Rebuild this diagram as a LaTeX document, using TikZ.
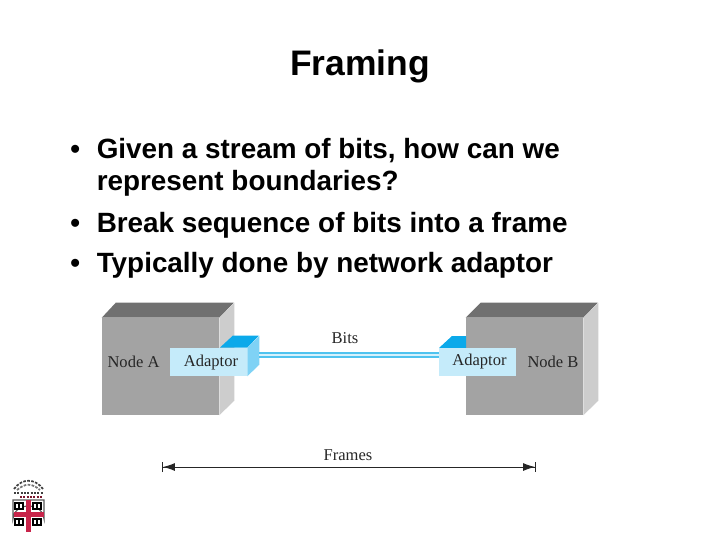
\documentclass[tikz,border=0pt]{standalone}
\usepackage{fontspec}
\setmainfont{Liberation Sans}
\newfontfamily\figfont{Liberation Serif}
\usepackage{xcolor}
\usetikzlibrary{arrows.meta,positioning}
\definecolor{nodefront}{HTML}{A3A3A3}
\definecolor{nodetop}{HTML}{707070}
\definecolor{nodeside}{HTML}{CDCDCD}
\definecolor{adaptfront}{HTML}{C5EBFA}
\definecolor{adapttop}{HTML}{0BA9EA}
\definecolor{adaptside}{HTML}{7FD2F5}
\definecolor{linkedge}{HTML}{4FC3EF}
\definecolor{linkcore}{HTML}{D5F1FC}
\definecolor{brownred}{HTML}{C8244A}
\definecolor{brownink}{HTML}{262626}

\begin{document}
\begin{tikzpicture}[
    x=0.75pt, y=-0.75pt,
    title/.style={font=\bfseries\fontsize{26.6pt}{30pt}\selectfont, anchor=base},
    bullet/.style={font=\bfseries\fontsize{20.9pt}{24pt}\selectfont, anchor=base west, inner sep=0pt},
    figtext/.style={font=\figfont\fontsize{12.4pt}{14pt}\selectfont, text=black!85, inner sep=0pt},
    computer/.style={fill=nodefront, minimum width=87.75pt, minimum height=72.75pt, inner sep=0pt},
    adaptor/.style={fill=adaptfront, minimum width=57.75pt, minimum height=21pt, inner sep=0pt},
    arrow/.style={{Bar[width=7.5pt]Latex[length=9pt,width=6pt]}-{Latex[length=9pt,width=6pt]Bar[width=7.5pt]}, line width=0.7pt, draw=brownink}
  ]
    \useasboundingbox (0,0) rectangle (720,540);

    \node[title] (heading) at (360,75) {Framing};
    \foreach \name/\ypos/\mark/\line in {
        one/158/{•}/{Given a stream of bits, how can we},
        two/190//{represent boundaries?},
        three/232/{•}/{Break sequence of bits into a frame},
        four/272/{•}/{Typically done by network adaptor}} {
      \node[bullet] (dot\name) at (70,\ypos) {\mark};
      \node[bullet] (item\name) at (96.5,\ypos) {\line};
    }

    % node A
    \node[computer] (nodeA) at (160.5,366.5) {};
    \fill[nodetop] (nodeA.north west) -- ++(14,-15) -- ++(118,0) -- (nodeA.north east) -- cycle;
    \fill[nodeside] (nodeA.north east) -- ++(15,-15) -- ++(0,98) -- (nodeA.south east) -- cycle;
    \node[adaptor] (adaptA) at (208.5,362) {};
    \fill[adapttop] (adaptA.north west) ++(50,0) -- ++(13,-12) -- ++(26,0) -- (adaptA.north east) -- cycle;
    \fill[adaptside] (adaptA.north east) -- ++(12,-12) -- ++(0,29) -- (adaptA.south east) -- cycle;
    \node[figtext, anchor=base] (labelA) at (133.5,367) {Node A};
    \node[figtext, anchor=base] (labeladaptA) at (211,366) {Adaptor};

    % node B
    \node[computer] (nodeB) at (524.5,366.5) {};
    \fill[nodetop] (nodeB.north west) -- ++(15,-15) -- ++(117,0) -- (nodeB.north east) -- cycle;
    \fill[nodeside] (nodeB.north east) -- ++(15,-15) -- ++(0,98) -- (nodeB.south east) -- cycle;
    \fill[adapttop] (466,348) -- (439,348) -- (452,336) -- (466,336) -- cycle;
    \node[adaptor] (adaptB) at (477.5,362) {};
    \node[figtext, anchor=base] (labelB) at (553,367) {Node B};
    \node[figtext, anchor=base] (labeladaptB) at (479.5,365) {Adaptor};

    % link
    \coordinate (linkA) at (259,355);
    \coordinate (linkB) at (adaptB.west |- linkA);
    \draw[linkedge, line width=4.5pt] (linkA) -- (linkB);
    \draw[linkcore, line width=1.1pt] (linkA) -- (linkB);
    \node[figtext, anchor=base] (bits) at (345,343) {Bits};

    % frames
    \coordinate (frameL) at (162,467);
    \coordinate (frameR) at (536,467);
    \draw[arrow] (frameL) -- (frameR);
    \node[figtext, anchor=base] (frames) at (348,460) {Frames};

    % crest
    \draw[black!65, fill=white, line width=0.8pt] (13,500) -- (13,519) arc[start angle=180, end angle=360, x radius=15.5, y radius=13] -- (44,500) -- cycle;
    \fill[brownred] (25.5,500) rectangle (31,532);
    \fill[brownred] (13.5,512) rectangle (43.5,516.5);
    \foreach \xpos/\ypos in {19/503,37/503,19/519,37/519} {
      \draw[black, line width=0.9pt, fill=white] (\xpos-4,\ypos) rectangle (\xpos+4,\ypos+6);
      \draw[black, line width=0.9pt] (\xpos,\ypos) -- (\xpos,\ypos+6);
    }
    \draw[black!75, line width=1.3pt, dash pattern=on 2pt off 1pt] (14,489) .. controls (22,478) and (35,478) .. (43,489);
    \draw[black!55, line width=1.3pt, dash pattern=on 2pt off 1pt] (17,490) .. controls (25,483) and (32,483) .. (40,490);
    \draw[black!75, line width=1.4pt, dash pattern=on 1.5pt off 1pt] (14,493) -- (43,493);
    \draw[brownred!60!black, line width=1.3pt, dash pattern=on 1.5pt off 1pt] (20,497) -- (43,497);
  \end{tikzpicture}
\end{document}
